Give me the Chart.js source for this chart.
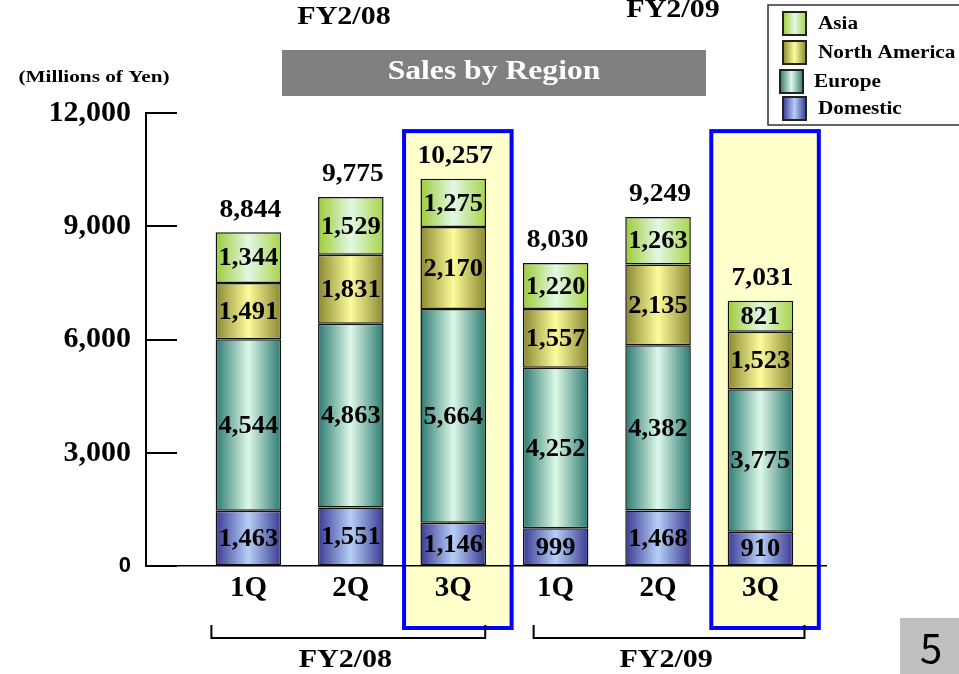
<!DOCTYPE html>
<html>
<head>
<meta charset="utf-8">
<title>Sales by Region</title>
<script src="https://cdn.jsdelivr.net/npm/chart.js"></script>
<style>
  html, body { margin: 0; padding: 0; background: #fff; }
  #wrap { position: relative; width: 959px; height: 674px; }
</style>
</head>
<body>
<div id="wrap"><canvas id="chart" width="959" height="674"></canvas></div>
<script>
// data
const quarters = ['1Q', '2Q', '3Q', '1Q', '2Q', '3Q'];
const fiscalYears = ['FY2/08', 'FY2/09'];
const domestic = [1463, 1551, 1146, 999, 1468, 910];
const europe = [4544, 4863, 5664, 4252, 4382, 3775];
const northAmerica = [1491, 1831, 2170, 1557, 2135, 1523];
const asia = [1344, 1529, 1275, 1220, 1263, 821];
const totals = [8844, 9775, 10257, 8030, 9249, 7031];
const yTicks = [0, 3000, 6000, 9000, 12000];

const serif = '"Liberation Serif", "Times New Roman", serif';
const fmt = v => v.toLocaleString('en-US');

// edge / centre colours for the cylinder-like fills
const palette = {
  Domestic: ['#3a3a92', '#b6cff6', '#3a3a92'],
  Europe: ['#2c7a72', '#ddf8e8', '#2c7a72'],
  'North America': ['#8a8830', '#fcfc9c', '#8a8830'],
  Asia: ['#9ccc34', '#e2f8e6', '#a8d448']
};

function barFill(name) {
  return ctx => {
    const chart = ctx.chart;
    const x = chart.scales.x;
    if (!chart.chartArea || !x) return palette[name][1];
    const c = x.getPixelForValue(ctx.dataIndex);
    const hw = x.getPixelForValue(ctx.dataIndex + 0.32) - c;
    const g = chart.ctx.createLinearGradient(c - hw, 0, c + hw, 0);
    g.addColorStop(0, palette[name][0]);
    g.addColorStop(0.5, palette[name][1]);
    g.addColorStop(1, palette[name][2]);
    return g;
  };
}

function makeSet(label, values) {
  return {
    label,
    data: values.map((v, i) => ({ x: i, y: v })),
    backgroundColor: barFill(label),
    borderColor: '#111',
    borderWidth: 1.5,
    borderSkipped: false,
    categoryPercentage: 1,
    barPercentage: 0.64,
    stack: 's'
  };
}

// text stretched sideways like the slide's wide Times face
function wideText(ctx, str, x, y, size, sx) {
  ctx.save();
  ctx.font = 'bold ' + size + 'px ' + serif;
  ctx.translate(x, y);
  ctx.scale(sx, 1);
  ctx.fillText(str, 0, 0);
  ctx.restore();
}

// yellow boxes behind the latest quarter of each year (drawn before the axes)
const highlight = {
  id: 'highlight',
  beforeDraw(chart) {
    const { ctx, scales: { x, y }, chartArea } = chart;
    ctx.save();
    [2, 5].forEach(i => {
      const l = x.getPixelForValue(i - 0.48);
      const r = x.getPixelForValue(i + 0.57);
      const t = y.getPixelForValue(11520);
      const b = chartArea.bottom + 62;
      ctx.fillStyle = '#ffffcc';
      ctx.fillRect(l, t, r - l, b - t);
      ctx.strokeStyle = '#0000ff';
      ctx.lineWidth = 4;
      ctx.strokeRect(l, t, r - l, b - t);
    });
    ctx.restore();
  }
};

// inward tick marks on the value axis
const yMarks = {
  id: 'yMarks',
  afterDraw(chart) {
    const { ctx, scales: { y }, chartArea } = chart;
    ctx.save();
    ctx.strokeStyle = '#000';
    ctx.lineWidth = 2;
    yTicks.forEach(v => {
      const py = Math.round(y.getPixelForValue(v));
      ctx.beginPath();
      ctx.moveTo(chartArea.left, py);
      ctx.lineTo(chartArea.left + 31, py);
      ctx.stroke();
    });
    ctx.restore();
  }
};

// values inside segments and totals above stacks
const labels = {
  id: 'labels',
  afterDatasetsDraw(chart) {
    const { ctx } = chart;
    ctx.save();
    ctx.fillStyle = '#000';
    ctx.textAlign = 'center';
    ctx.textBaseline = 'middle';
    chart.data.datasets.forEach((ds, di) => {
      chart.getDatasetMeta(di).data.forEach((el, i) => {
        wideText(ctx, fmt(ds.data[i].y), el.x, (el.y + el.base) / 2 + 1, 26, 1.02);
      });
    });
    const top = chart.getDatasetMeta(chart.data.datasets.length - 1).data;
    totals.forEach((t, i) => {
      wideText(ctx, fmt(t), top[i].x + 2, top[i].y - 22, 25, 1.1);
    });
    ctx.restore();
  }
};

// slide decorations: headings, title bar, legend, year brackets, page number
const slide = {
  id: 'slide',
  afterDraw(chart) {
    const { ctx, scales: { x }, chartArea } = chart;
    ctx.save();
    ctx.fillStyle = '#000';
    ctx.textAlign = 'center';
    ctx.textBaseline = 'middle';
    wideText(ctx, fiscalYears[0], 344, 18, 25, 1.2);
    wideText(ctx, fiscalYears[1], 673, 11, 25, 1.2);

    ctx.fillStyle = '#808080';
    ctx.fillRect(282, 50, 424, 46);
    ctx.fillStyle = '#fff';
    wideText(ctx, 'Sales by Region', 494, 72, 28, 1.13);

    ctx.fillStyle = '#000';
    wideText(ctx, '(Millions of Yen)', 94, 78, 17, 1.25);

    // brackets under the axis
    const brackets = [[x.getPixelForValue(0) - 37, x.getPixelForValue(2) + 32],
                      [x.getPixelForValue(3) - 22, x.getPixelForValue(5) + 44]];
    ctx.strokeStyle = '#000';
    ctx.lineWidth = 2;
    brackets.forEach(([l, r], k) => {
      const yb = chartArea.bottom + 72;
      ctx.beginPath();
      ctx.moveTo(l, yb - 13);
      ctx.lineTo(l, yb);
      ctx.lineTo(r, yb);
      ctx.lineTo(r, yb - 13);
      ctx.stroke();
      wideText(ctx, fiscalYears[k], (l + r) / 2 - 3, chartArea.bottom + 95, 25, 1.2);
    });

    // legend
    ctx.fillStyle = '#fff';
    ctx.fillRect(768, 5, 195, 120);
    ctx.strokeStyle = '#333';
    ctx.lineWidth = 1.5;
    ctx.strokeRect(768, 5, 195, 120);
    const items = [['Asia', 12, 783, 818], ['North America', 41, 783, 818],
                   ['Europe', 70, 780, 814], ['Domestic', 97, 783, 818]];
    ctx.textAlign = 'left';
    items.forEach(([name, yy, sx, tx]) => {
      const g = ctx.createLinearGradient(sx, 0, sx + 23, 0);
      g.addColorStop(0, palette[name][0]);
      g.addColorStop(0.5, palette[name][1]);
      g.addColorStop(1, palette[name][2]);
      ctx.fillStyle = g;
      ctx.fillRect(sx, yy, 23, 23);
      ctx.strokeStyle = '#222';
      ctx.lineWidth = 2;
      ctx.strokeRect(sx, yy, 23, 23);
      ctx.fillStyle = '#000';
      wideText(ctx, name, tx, yy + 12, 18, 1.18);
    });

    // page number
    ctx.fillStyle = '#c0c0c0';
    ctx.fillRect(900, 618, 59, 56);
    ctx.fillStyle = '#000';
    ctx.textAlign = 'center';
    ctx.font = '40px "Noto Sans CJK JP", "Noto Sans", sans-serif';
    ctx.fillText('5', 931, 648);
    ctx.restore();
  }
};

new Chart(document.getElementById('chart'), {
  type: 'bar',
  data: {
    datasets: [
      makeSet('Domestic', domestic),
      makeSet('Europe', europe),
      makeSet('North America', northAmerica),
      makeSet('Asia', asia)
    ]
  },
  options: {
    responsive: false,
    animation: false,
    layout: { padding: { top: 113, right: 133, left: 0, bottom: 0 } },
    plugins: { legend: { display: false }, tooltip: { enabled: false } },
    scales: {
      x: {
        type: 'linear',
        offset: false,
        stacked: true,
        min: -1,
        max: 5.64,
        afterFit: s => { s.height = 108; },
        afterBuildTicks: s => { s.ticks = quarters.map((q, i) => ({ value: i })); },
        grid: { display: true, offset: false, drawOnChartArea: false, drawTicks: false },
        border: { display: true, color: '#000', width: 1.5 },
        ticks: {
          autoSkip: false,
          maxRotation: 0,
          padding: 5,
          color: '#000',
          font: { family: serif, size: 29, weight: 'bold' },
          callback: v => quarters[v] ?? ''
        }
      },
      y: {
        stacked: true,
        min: 0,
        max: 12000,
        afterFit: s => { s.width = 146; },
        afterBuildTicks: s => { s.ticks = yTicks.map(v => ({ value: v })); },
        grid: { display: true, drawOnChartArea: false, drawTicks: false },
        border: { display: true, color: '#000', width: 2 },
        ticks: {
          padding: 15,
          color: '#000',
          font: c => c.tick && c.tick.value === 0
            ? { family: '"Liberation Sans", Arial, sans-serif', size: 22, weight: 'bold' }
            : { family: serif, size: 30, weight: 'bold' },
          callback: v => fmt(v)
        }
      }
    }
  },
  plugins: [highlight, labels, yMarks, slide]
});
</script>
</body>
</html>
